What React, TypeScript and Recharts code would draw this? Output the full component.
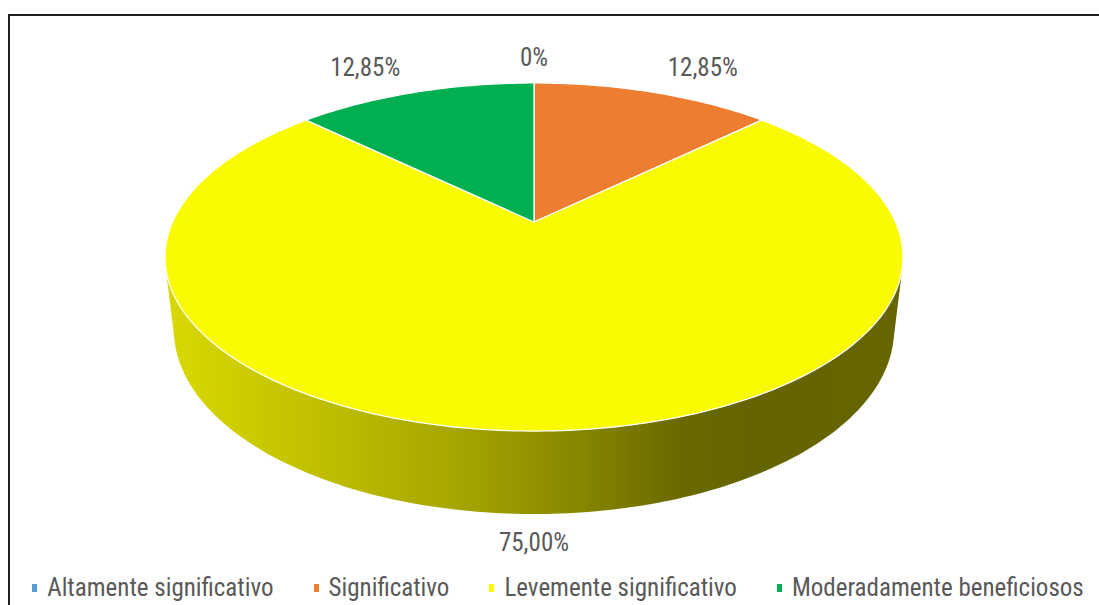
import React from "react";
import { PieChart, Pie, Cell, Legend } from "recharts";

const NAMES = [
  "Altamente significativo",
  "Significativo",
  "Levemente significativo",
  "Moderadamente beneficiosos",
];
const VALUES = [0, 12.85, 75, 12.85];
const COLORS = ["#5b9bd5", "#ed7d31", "#fafa00", "#00b050"];

const data = NAMES.map((name, i) => ({ name, value: VALUES[i] }));

const FONT = "'Liberation Sans Narrow', 'Roboto Condensed', Roboto, sans-serif";
const TEXT = "#595959";

// simple perspective camera (units of outer radius)
const DIST = 4.41;
const SIN_A = 0.462;
const COS_A = 0.887;
const DEPTH = 0.2285;
const SIDE_EDGE = (Math.asin(1 / (DIST * COS_A)) * 180) / Math.PI;

const RAD = Math.PI / 180;

function proj(cx: number, cy: number, R: number, deg: number, r = 1, z = 0) {
  const u = r * Math.cos(deg * RAD);
  const v = r * Math.sin(deg * RAD);
  const d = DIST + v * COS_A - z * SIN_A;
  return [cx + (R * DIST * u) / d, cy - (R * DIST * (v * SIN_A + z * COS_A)) / d];
}

function arcPts(cx: number, cy: number, R: number, a: number, b: number, z: number) {
  const n = Math.max(2, Math.ceil(Math.abs(b - a)) + 1);
  const pts: number[][] = [];
  for (let i = 0; i < n; i++) pts.push(proj(cx, cy, R, a + ((b - a) * i) / (n - 1), 1, z));
  return pts;
}

const toPath = (pts: number[][]) =>
  pts.map((p, i) => `${i ? "L" : "M"}${p[0].toFixed(2)},${p[1].toFixed(2)}`).join(" ");

function fmt(v: number) {
  return v === 0 ? "0%" : `${v.toFixed(2).replace(".", ",")}%`;
}

function renderSlice(props: any) {
  const { cx, cy, outerRadius: R, startAngle, endAngle, midAngle, index, value } = props;
  const color = COLORS[index];
  const gid = `side-${index}`;
  const lo = Math.min(startAngle, endAngle);
  const hi = Math.max(startAngle, endAngle);

  const sides: string[] = [];
  for (const shift of [-360, 0, 360]) {
    const a = Math.max(lo + shift, -180 + SIDE_EDGE);
    const b = Math.min(hi + shift, -SIDE_EDGE);
    if (a < b) {
      const top = arcPts(cx, cy, R, a, b, 0);
      const bot = arcPts(cx, cy, R, b, a, -DEPTH);
      sides.push(toPath([...top, ...bot]) + " Z");
    }
  }

  let topPath = "";
  if (hi - lo > 0) {
    const c = proj(cx, cy, R, 0, 0, 0);
    topPath = `M${c[0]},${c[1]} ` + toPath(arcPts(cx, cy, R, startAngle, endAngle, 0)).replace("M", "L") + " Z";
  }

  const cos = Math.cos(midAngle * RAD);
  const upper = Math.sin(midAngle * RAD) >= 0;
  const [lx, ly] = upper
    ? proj(cx, cy, R, midAngle, 1.15, 0)
    : proj(cx, cy, R, midAngle, 1.07, -DEPTH);
  const anchor = cos > 0.15 ? "start" : cos < -0.15 ? "end" : "middle";

  const base = [217, 190, 165, 137, 105, 100, 102];
  const offs = [0, 0.22, 0.4, 0.55, 0.7, 0.8, 1];
  const rgb = [parseInt(color.slice(1, 3), 16), parseInt(color.slice(3, 5), 16), parseInt(color.slice(5, 7), 16)];

  return (
    <g key={`slice-${index}`}>
      <defs>
        <linearGradient id={gid} gradientUnits="userSpaceOnUse" x1={cx - R * 1.02} y1={0} x2={cx + R * 1.02} y2={0}>
          {offs.map((o, i) => {
            const k = base[i] / 250;
            return (
              <stop
                key={i}
                offset={o}
                stopColor={`rgb(${Math.round(rgb[0] * k)},${Math.round(rgb[1] * k)},${Math.round(rgb[2] * k)})`}
              />
            );
          })}
        </linearGradient>
      </defs>
      {sides.map((d, i) => (
        <path key={i} d={d} fill={`url(#${gid})`} stroke="none" />
      ))}
      {topPath && <path d={topPath} fill={color} stroke="#ffffff" strokeWidth={1.3} strokeLinejoin="round" />}
      <text
        x={lx}
        y={upper ? ly : ly + 17}
        textAnchor={anchor}
        fill={TEXT}
        fontSize={25}
        fontFamily={FONT}
      >
        {fmt(value)}
      </text>
    </g>
  );
}

function renderLegend(props: any) {
  const { payload } = props;
  return (
    <div
      style={{
        display: "flex",
        justifyContent: "center",
        gap: 40,
        fontFamily: FONT,
        fontSize: 25,
        lineHeight: "26px",
        color: TEXT,
        whiteSpace: "nowrap",
      }}
    >
      {(payload || []).map((p: any, i: number) => (
        <div key={i} style={{ display: "flex", alignItems: "center" }}>
          <span style={{ display: "inline-block", width: 5, height: 8, background: p.color, marginRight: 10 }} />
          <span>{p.value}</span>
        </div>
      ))}
    </div>
  );
}

export default function App() {
  return (
    <div style={{ position: "relative", width: 1099, height: 605, overflow: "hidden", background: "#fff" }}>
      <style>{"html,body{margin:0;padding:0;overflow:hidden}"}</style>
      <div
        style={{
          position: "absolute",
          left: 8,
          top: 14,
          width: 1300,
          height: 640,
          border: "2px solid #1f1f1f",
          boxSizing: "border-box",
        }}
      />
      <div style={{ position: "absolute", left: 8, top: 8 }}>
        <PieChart width={1100} height={597} margin={{ top: 0, right: 0, bottom: 0, left: 0 }}>
          <Pie
            data={data}
            dataKey="value"
            nameKey="name"
            cx={526}
            cy={214}
            outerRadius={361.5}
            startAngle={90}
            endAngle={-270}
            stroke="none"
            label={renderSlice}
            labelLine={false}
            isAnimationActive={false}
          >
            {data.map((_, i) => (
              <Cell key={i} fill={COLORS[i]} fillOpacity={0} stroke="none" />
            ))}
          </Pie>
          <Legend
            content={renderLegend}
            itemSorter={null}
            wrapperStyle={{ position: "absolute", left: 0, top: 567, width: 1100, height: 26 }}
          />
        </PieChart>
      </div>
    </div>
  );
}
